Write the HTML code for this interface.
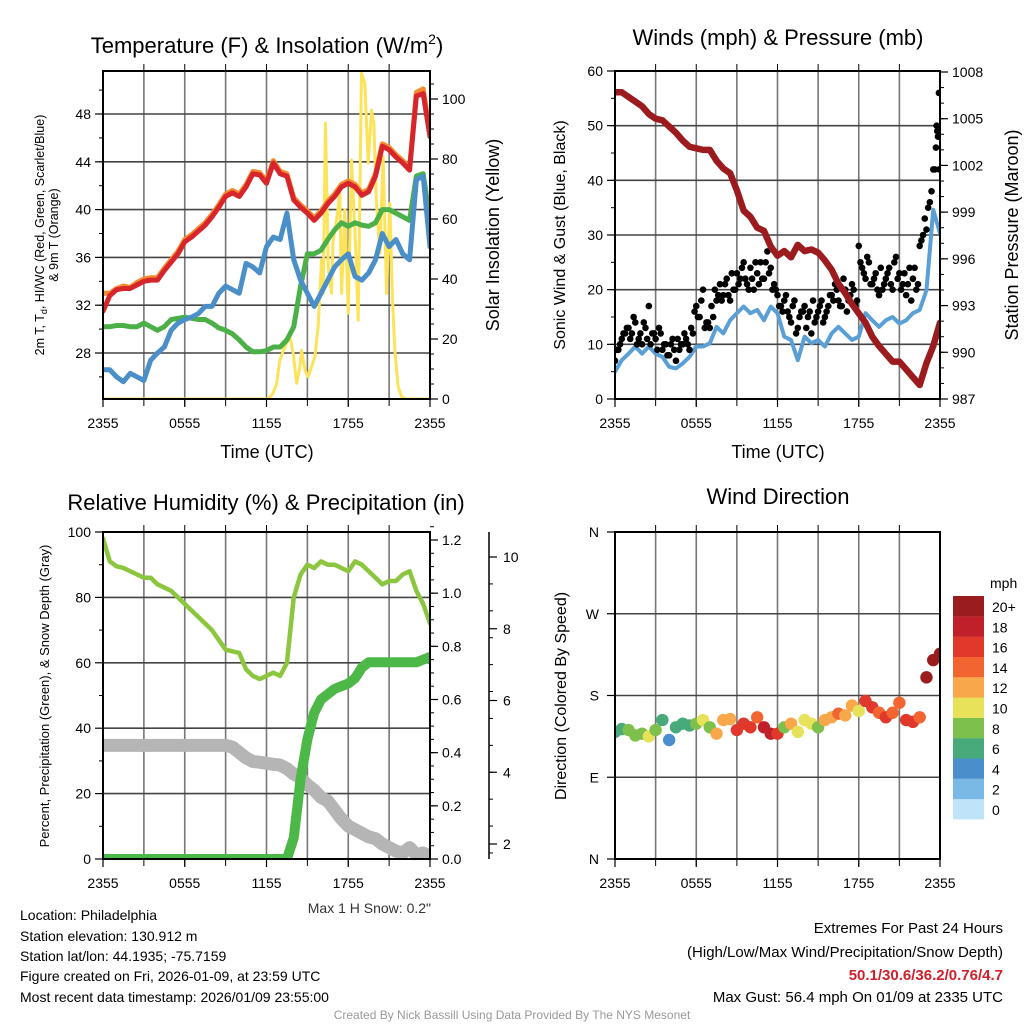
<!DOCTYPE html>
<html><head><meta charset="utf-8"><style>
html,body{margin:0;padding:0;background:#fff;}
svg{display:block;font-family:"Liberation Sans",sans-serif;}
</style></head><body>
<svg id="root" width="1024" height="1024" viewBox="0 0 1024 1024">
<defs>
<clipPath id="c1"><rect x="103" y="71" width="327" height="328"/></clipPath>
<clipPath id="c2"><rect x="615" y="71" width="325" height="328"/></clipPath>
<clipPath id="c3"><rect x="103" y="532" width="327" height="327"/></clipPath>
<clipPath id="c4"><rect x="615" y="532" width="325" height="327"/></clipPath>
</defs>
<g id="grids"></g>
<g id="p1" clip-path="url(#c1)"></g>
<g id="p2" clip-path="url(#c2)"></g>
<g id="p3" clip-path="url(#c3)"></g>
<g id="p4" clip-path="url(#c4)"></g>
<g id="axes"></g>
<g font-size="22" text-anchor="middle" fill="#000">
<text x="267" y="53">Temperature (F) &amp; Insolation (W/m<tspan font-size="14" dy="-9">2</tspan><tspan dy="9">)</tspan></text>
<text x="778" y="45">Winds (mph) &amp; Pressure (mb)</text>
<text x="266" y="510">Relative Humidity (%) &amp; Precipitation (in)</text>
<text x="778" y="504">Wind Direction</text>
</g>
<g font-size="18" text-anchor="middle">
<text x="267" y="458">Time (UTC)</text>
<text x="778" y="458">Time (UTC)</text>
<text transform="translate(499,235) rotate(-90)">Solar Insolation (Yellow)</text>
<text transform="translate(565,235) rotate(-90)" font-size="16">Sonic Wind &amp; Gust (Blue, Black)</text>
<text transform="translate(1018,235) rotate(-90)">Station Pressure (Maroon)</text>
<text transform="translate(566,696) rotate(-90)" font-size="16">Direction (Colored By Speed)</text>
</g>
<g font-size="12.5" text-anchor="middle">
<text transform="translate(44,235) rotate(-90)">2m T, T<tspan font-size="9" dy="3">d</tspan><tspan dy="-3">, HI/WC (Red, Green, Scarlet/Blue)</tspan></text>
<text transform="translate(58,235) rotate(-90)">&amp; 9m T (Orange)</text>
<text transform="translate(49,696) rotate(-90)" font-size="13">Percent, Precipitation (Green), &amp; Snow Depth (Gray)</text>
</g>
<text x="431" y="913" font-size="14" text-anchor="end" fill="#333">Max 1 H Snow: 0.2"</text>
<g font-size="14" fill="#000">
<text x="20" y="920">Location: Philadelphia</text>
<text x="20" y="941">Station elevation: 130.912 m</text>
<text x="20" y="961">Station lat/lon: 44.1935; -75.7159</text>
<text x="20" y="981">Figure created on Fri, 2026-01-09, at 23:59 UTC</text>
<text x="20" y="1002">Most recent data timestamp: 2026/01/09 23:55:00</text>
</g>
<g font-size="15" text-anchor="end">
<text x="1003" y="933">Extremes For Past 24 Hours</text>
<text x="1003" y="957">(High/Low/Max Wind/Precipitation/Snow Depth)</text>
<text x="1003" y="980" fill="#d0202a" font-weight="bold">50.1/30.6/36.2/0.76/4.7</text>
<text x="1003" y="1002">Max Gust: 56.4 mph On 01/09 at 2335 UTC</text>
</g>
<text x="512" y="1019" font-size="12" text-anchor="middle" fill="#999">Created By Nick Bassill Using Data Provided By The NYS Mesonet</text>
<g id="cbar"></g>
</svg>
<script>
// ---- data (half-hourly, 0..24 h) ----
const xTickLabels = ["2355","0555","1155","1755","2355"];
const tempRed = [31.5,32.8,33.3,33.4,33.4,33.7,34.0,34.1,34.1,34.9,35.6,36.3,37.3,37.7,38.2,38.7,39.4,40.2,41.1,41.4,41.1,41.9,43.0,42.9,42.2,43.9,43.0,42.8,40.8,40.2,39.7,39.1,39.7,40.5,41.1,41.9,42.2,41.9,41.2,41.5,42.8,45.3,45.0,44.4,43.9,43.3,49.5,49.7,46.1];
const temp9m = [33.0,33.0,33.4,33.6,33.5,33.9,34.2,34.3,34.3,35.1,35.8,36.5,37.5,37.9,38.4,38.9,39.6,40.4,41.3,41.6,41.3,42.1,43.2,43.1,42.4,44.1,43.2,43.0,41.0,40.4,39.9,39.3,39.9,40.7,41.3,42.1,42.4,42.1,41.4,41.7,43.0,45.5,45.2,44.6,44.1,43.5,49.8,50.1,46.3];
const tempBlue = [26.6,26.6,26.0,25.6,26.3,26.0,25.7,27.4,28.0,28.5,29.9,30.5,30.8,31.0,31.3,31.9,31.9,33.0,33.6,33.3,33.0,35.5,35.2,34.7,36.9,37.7,37.5,39.7,35.8,34.1,33.0,31.9,33.0,34.1,35.2,35.8,36.3,34.4,34.1,34.7,35.8,38.0,36.9,37.5,36.3,35.8,42.5,42.8,36.9];
const tempGreen = [30.2,30.2,30.3,30.3,30.2,30.2,30.5,30.2,29.9,30.2,30.8,30.9,31.0,30.9,30.8,30.8,30.5,30.1,29.9,29.6,29.1,28.5,28.1,28.1,28.2,28.5,28.5,29.1,30.2,33.6,36.3,36.3,36.6,37.5,38.3,38.9,38.6,38.9,38.7,38.6,38.9,40.0,40.0,39.7,39.4,39.1,42.8,43.0,39.1];
const solarHours = [0,12.13,12.49,12.74,12.98,13.23,13.47,13.72,13.96,14.21,14.45,14.57,14.82,15.06,15.31,15.55,15.79,16.04,16.16,16.33,16.53,16.77,16.89,17.14,17.38,17.51,17.75,18.0,18.24,18.48,18.73,18.97,19.22,19.46,19.71,19.88,20.07,20.32,20.56,20.81,21.05,21.25,21.42,21.66,21.91,22.27,24];
const solarVals = [0,0,2,5,13,16,18.6,20.8,15.2,5.2,10.8,16.3,9.7,7.4,10.8,14.1,24.1,46.3,35.2,91.9,44.1,35.2,53,59.7,68.6,35.2,63,28.6,79.7,57.4,26.3,108.6,105.2,78.6,96.3,91.9,65.2,48.6,80.8,35.2,65.2,33,16.3,4.1,0.8,0,0];
const pressure = [1006.7,1006.7,1006.4,1006.1,1005.8,1005.3,1005.0,1004.9,1004.5,1004.1,1003.6,1003.2,1003.1,1003.0,1003.0,1002.3,1001.8,1001.5,1000.4,999.1,998.7,998.0,997.8,996.8,996.2,996.5,996.1,996.9,996.5,996.6,996.4,995.9,995.3,994.4,993.8,993.1,992.5,991.9,991.0,990.4,989.9,989.4,989.4,988.9,988.4,987.9,989.3,990.4,991.9];
const windSpeed = [5.0,7.1,8.3,9.6,8.3,9.6,8.3,7.7,5.9,5.6,6.5,7.7,9.6,9.6,10.2,13.2,12.0,14.4,15.7,16.9,15.7,16.3,14.4,16.9,15.7,11.4,10.8,7.1,11.4,10.2,10.8,9.6,12.0,13.2,12.0,10.8,11.4,15.7,14.4,13.2,14.4,15.0,13.8,14.4,15.7,16.3,19.9,34.6,30.3];
// gusts every 15 min
const gustA = [7,9,11,12,13,12,14,11,10,13,17,12,11,13,9,10,8,11,7,9,10,11,9,12,17,15,20,14,13,15,18,21,19,22,18,20,23,22,25,21,24,20,23,25,22,27,24,21,19,17,18,16,14,18,13,16,17,15,12,14,16,18,15,17,19,21,18,17,20,18,21,17,28,24,22,25,21,23,19,20,22,24,20,26,23,21,19,24,22,20,28,30,31,36,42,50];
const gustB = [9,10,12,13,11,15,10,12,14,11,10,12,9,12,10,8,10,9,11,10,12,10,13,16,15,18,13,14,17,20,19,18,21,19,23,20,21,24,22,20,22,25,21,22,25,23,20,20,17,16,19,15,17,12,15,16,13,16,18,15,17,14,16,19,18,20,17,22,16,19,20,18,25,23,26,21,22,20,24,21,23,21,25,22,20,23,21,18,24,21,29,33,35,38,42,48];
const gustLateHours = [23.7,23.8,23.85,23.92,23.95];
const gustLateVals = [46,49,48,56,42];
const rh = [98,91,89.5,89,88,87,86,86,84,83,82,80,78,76,74,72,70,67,64,63.5,63,58,56,55,56,57,56,60,80,87,90,89,91,90,90,89,88,91,90,88,86,84,85,85,87,88,82,78,72];
const precip = [0,0,0,0,0,0,0,0,0,0,0,0,0,0,0,0,0,0,0,0,0,0,0,0,0,0,0,0,0.08,0.3,0.45,0.55,0.6,0.62,0.64,0.65,0.66,0.68,0.72,0.74,0.74,0.74,0.74,0.74,0.74,0.74,0.74,0.75,0.76];
const snowDepth = [4.75,4.75,4.75,4.75,4.75,4.75,4.75,4.75,4.75,4.75,4.75,4.75,4.75,4.75,4.75,4.75,4.75,4.75,4.75,4.7,4.55,4.4,4.3,4.28,4.25,4.22,4.2,4.1,3.95,3.85,3.65,3.5,3.3,3.2,2.95,2.7,2.5,2.4,2.3,2.2,2.15,2.0,1.9,1.8,1.75,1.9,1.7,1.75,1.65];
const windDir = [140,143,142,136,138,135,142,153,131,145,149,147,149,153,145,138,153,154,142,149,145,156,145,138,138,145,149,140,153,149,145,153,156,160,158,169,163,174,167,161,156,161,172,153,151,156,200,219,226];
const dirSpeed = [6,7,8,9,8,10,8,7,5,6,6,7,8,10,9,12,12,13,16,17,16,14,18,18,17,9,12,10,11,10,9,12,13,14,12,12,11,17,16,14,16,15,14,16,16,14,21,21,22];
const speedBins = ["0","2","4","6","8","10","12","14","16","18","20+"];
const speedColors = ["#bfe3f8","#7ab8e6","#4a8fcb","#48a97a","#7dc04b","#e8e15a","#f8a84a","#f26430","#e0382b","#c0202a","#9b1c1f"];

const NS="http://www.w3.org/2000/svg";
function mk(tag,attrs,parent){const e=document.createElementNS(NS,tag);for(const k in attrs)e.setAttribute(k,attrs[k]);parent.appendChild(e);return e;}
const axes=document.getElementById('axes'), grids=document.getElementById('grids');

function lin(d0,d1,r0,r1){return v=>r0+(v-d0)*(r1-r0)/(d1-d0);}

function panelFrame(x0,y0,x1,y1,xs,name){
  for(let h=3;h<24;h+=3){const l=mk('line',{x1:xs(h),x2:xs(h),y1:y0,y2:y1,stroke:'#777','stroke-width':1.6},grids);
    
    mk('line',{x1:xs(h),x2:xs(h),y1:y0-7,y2:y0,stroke:'#000','stroke-width':1},axes);
    mk('line',{x1:xs(h),x2:xs(h),y1:y1,y2:y1+7,stroke:'#000','stroke-width':1},axes);}
  const r=mk('rect',{x:x0,y:y0,width:x1-x0,height:y1-y0,fill:'none',stroke:'#000','stroke-width':2},axes);
  
  xTickLabels.forEach((t,i)=>{const h=i*6;const tx=mk('text',{x:xs(h),y:y1+29,'font-size':14,'text-anchor':'middle'},axes);tx.textContent=t;
    
    mk('line',{x1:xs(h),x2:xs(h),y1:y1,y2:y1+8,stroke:'#000','stroke-width':1.2},axes);});
}
function yAxis(x,ys,ticks,labels,minor,side,name,grid,x0,x1,lblOff){
  const dir=side==='left'?-1:1;
  ticks.forEach((v,i)=>{mk('line',{x1:x,x2:x+dir*8,y1:ys(v),y2:ys(v),stroke:'#000','stroke-width':1.2},axes);
    if(grid){const g=mk('line',{x1:x0,x2:x1,y1:ys(v),y2:ys(v),stroke:'#444','stroke-width':1.6},grids);}
    const t=mk('text',{x:x+dir*(lblOff||12),y:ys(v)+5,'font-size':14,'text-anchor':side==='left'?'end':'start'},axes);t.textContent=labels[i];
    });
  minor.forEach(v=>mk('line',{x1:x,x2:x+dir*4,y1:ys(v),y2:ys(v),stroke:'#000','stroke-width':1},axes));
}
function poly(g,xs,ys,hours,vals,attrs,name){
  const pts=vals.map((v,i)=>xs(hours(i))+','+ys(v)).join(' ');
  const p=mk('polyline',Object.assign({points:pts,fill:'none','stroke-linejoin':'round','stroke-linecap':'round'},attrs),g);
  return p;
}
const half=i=>i*0.5;
function range(a,b,s){const r=[];for(let v=a;v<=b+1e-9;v+=s)r.push(+v.toFixed(3));return r;}

// ---- Panel 1 ----
{const x0=103,x1=430,y0=71,y1=399;const xs=lin(0,24,x0,x1);
 const yT=lin(28,48,353,114), yS=lin(0,100,399,99);
 panelFrame(x0,y0,x1,y1,xs,'temp');
 yAxis(x0,yT,[28,32,36,40,44,48],['28','32','36','40','44','48'],range(26,50,2),'left','temp',true,x0,x1);
 yAxis(x1,yS,[0,20,40,60,80,100],['0','20','40','60','80','100'],range(5,105,5),'right','solar',false);
 const g=document.getElementById('p1');
 poly(g,xs,yS,i=>solarHours[i],solarVals,{stroke:'#fde35a','stroke-width':3},'solar-line');
 poly(g,xs,yT,half,tempGreen,{stroke:'#4cb048','stroke-width':5},'dewpoint-line');
 poly(g,xs,yT,half,tempBlue,{stroke:'#4a8fc8','stroke-width':5},'windchill-line');
 poly(g,xs,yT,half,temp9m,{stroke:'#f58a2e','stroke-width':5},'temp-9m-line');
 poly(g,xs,yT,half,tempRed,{stroke:'#d7262b','stroke-width':5},'temp-2m-line');
}
// ---- Panel 2 ----
{const x0=615,x1=940,y0=71,y1=399;const xs=lin(0,24,x0,x1);
 const yW=lin(0,60,399,71), yP=lin(987,1008,399,72);
 panelFrame(x0,y0,x1,y1,xs,'wind');
 yAxis(x0,yW,[0,10,20,30,40,50,60],['0','10','20','30','40','50','60'],range(5,55,5),'left','wind',true,x0,x1);
 yAxis(x1,yP,[987,990,993,996,999,1002,1005,1008],['987','990','993','996','999','1002','1005','1008'],range(988,1007,1),'right','pressure',false);
 const g=document.getElementById('p2');
 poly(g,xs,yW,half,windSpeed,{stroke:'#5a9fd6','stroke-width':4},'wind-line');
 gustA.forEach((v,i)=>{const c=mk('circle',{cx:xs(i*0.25),cy:yW(v),r:3.3,fill:'#000'},g);});
 gustB.forEach((v,i)=>{const c=mk('circle',{cx:xs(i*0.25+0.125),cy:yW(v),r:3.3,fill:'#000'},g);});
 gustLateVals.forEach((v,i)=>{const c=mk('circle',{cx:xs(gustLateHours[i]),cy:yW(v),r:3.3,fill:'#000'},g);});
 poly(g,xs,yP,half,pressure,{stroke:'#9b1b1e','stroke-width':6.5},'pressure-line');
}
// ---- Panel 3 ----
{const x0=103,x1=430,y0=532,y1=859;const xs=lin(0,24,x0,x1);
 const yR=lin(0,100,859,532), yPr=lin(0,1.2,859,540), ySn=lin(2,10,844,557);
 panelFrame(x0,y0,x1,y1,xs,'rh');
 yAxis(x0,yR,[0,20,40,60,80,100],['0','20','40','60','80','100'],range(10,90,20),'left','rh',true,x0,x1);
 yAxis(x1,yPr,[0,0.2,0.4,0.6,0.8,1.0,1.2],['0.0','0.2','0.4','0.6','0.8','1.0','1.2'],range(0.05,1.25,0.05),'right','precip',false);
 const sa=mk('line',{x1:489,x2:489,y1:532,y2:859,stroke:'#000','stroke-width':1.5},axes);
 
 yAxis(489,ySn,[2,4,6,8,10],['2','4','6','8','10'],range(1.75,10.5,0.75).filter(v=>v<10.6),'right','snow',false,0,0,14);
 const g=document.getElementById('p3');
 poly(g,xs,ySn,half,snowDepth,{stroke:'#b5b5b5','stroke-width':13},'snow-depth-line');
 poly(g,xs,yR,half,rh,{stroke:'#8cc63f','stroke-width':4.5},'rh-line');
 poly(g,xs,yPr,half,precip,{stroke:'#4cb848','stroke-width':10},'precip-line');
}
// ---- Panel 4 ----
{const x0=615,x1=940,y0=532,y1=859;const xs=lin(0,24,x0,x1);
 const yD=lin(0,360,859,532);
 panelFrame(x0,y0,x1,y1,xs,'dir');
 yAxis(x0,yD,[0,90,180,270,360],['N','E','S','W','N'],[],'left','dir',true,x0,x1,16);
 const g=document.getElementById('p4');
 windDir.forEach((d,i)=>{const s=dirSpeed[i];const bi=Math.min(10,Math.floor(s/2));
   const c=mk('circle',{cx:xs(half(i)),cy:yD(d),r:6.2,fill:speedColors[bi]},g);
   });
 const cb=document.getElementById('cbar');
 const t=mk('text',{x:990,y:588,'font-size':14},cb);t.textContent='mph';
 speedBins.forEach((lab,i)=>{const yy=596+(10-i)*20.3;
   const r=mk('rect',{x:953,y:yy,width:31,height:20.4,fill:speedColors[i]},cb);
   
   const tx=mk('text',{x:992,y:yy+16,'font-size':14},cb);tx.textContent=lab;
   });
}
</script>
</body></html>
